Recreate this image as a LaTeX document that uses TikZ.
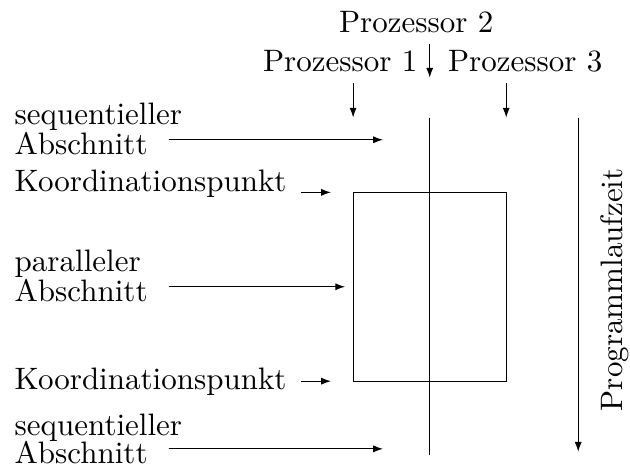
\documentclass[tikz,border=0pt]{standalone}
\usepackage{tikz}
\usetikzlibrary{arrows.meta, positioning, calc}

\tikzset{
  pfeil/.style={-{Latex[length=3.2pt, width=2.3pt]}, line width=0.4pt},
  links/.style={anchor=base west, inner sep=0pt},
  proz/.style={anchor=base},
}

\begin{document}
\begin{tikzpicture}[x=1mm,y=1mm]
  \path[use as bounding box] (0,0) rectangle (71.4,52.8);

  % Parallel block of processors 1 and 3
  \draw[line width=0.4pt] (40.02,9.6) rectangle (57.37,31.0);
  \coordinate (rechteckNW) at (40.02,31.0);
  \coordinate (rechteckSW) at (40.02,9.6);
  \coordinate (rechteckW)  at (40.02,20.3);
  \coordinate (rechteckNO) at (57.37,31.0);

  % Processor 2 runs the whole time
  \coordinate (lauf2o) at (48.7,39.46);
  \coordinate (lauf2u) at (48.7,1.25);
  \draw[line width=0.4pt] (lauf2o) -- (lauf2u);

  % Processor labels on top
  \node[proz] (p2) at (47.17,49.09) {Prozessor 2};
  \node[proz] (p1) at (38.55,44.67) {Prozessor 1};
  \node[proz] (p3) at (59.52,44.67) {Prozessor 3};
  \coordinate (p2ende) at (48.7,43.99);
  \draw[pfeil] (p2.south -| lauf2o) -- (p2ende);
  \draw[pfeil] (p1.south -| rechteckNW) -- (rechteckNW |- lauf2o);
  \draw[pfeil] (p3.south -| rechteckNO) -- (rechteckNO |- lauf2o);

  % Time axis
  \coordinate (zeito) at (65.53,39.46);
  \coordinate (zeitu) at (65.53,1.59);
  \draw[pfeil] (zeito) -- (zeitu);
  \node[anchor=base, rotate=90, inner sep=0pt] (zeit) at (70.52,19.95) {Programmlaufzeit};

  % Left labels
  \node[links] (seq1a) at (1.6,38.66) {sequentieller};
  \node[links] (seq1b) at (1.6,35.26) {Abschnitt};
  \node[links] (kp1)   at (1.6,31.07) {Koordinationspunkt};
  \node[links] (parA)  at (1.6,22.0)  {paralleler};
  \node[links] (parB)  at (1.6,18.59) {Abschnitt};
  \node[links] (kp2)   at (1.6,8.62)  {Koordinationspunkt};
  \node[links] (seq2a) at (1.6,3.40)  {sequentieller};
  \node[links] (seq2b) at (1.6,0.23)  {Abschnitt};

  \coordinate (seq1ende) at (43.42,36.96);
  \coordinate (seq2ende) at (43.42,1.93);
  \draw[pfeil, shorten <=2.3mm] (seq1b.east |- seq1ende) -- (seq1ende);
  \draw[pfeil, shorten <=1.6mm, shorten >=2.5mm] (kp1.east |- rechteckNW) -- (rechteckNW);
  \draw[pfeil, shorten <=2.3mm, shorten >=0.9mm] (parB.east |- rechteckW) -- (rechteckW);
  \draw[pfeil, shorten <=1.6mm, shorten >=2.5mm] (kp2.east |- rechteckSW) -- (rechteckSW);
  \draw[pfeil, shorten <=2.3mm] (seq2b.east |- seq2ende) -- (seq2ende);
\end{tikzpicture}
\end{document}
